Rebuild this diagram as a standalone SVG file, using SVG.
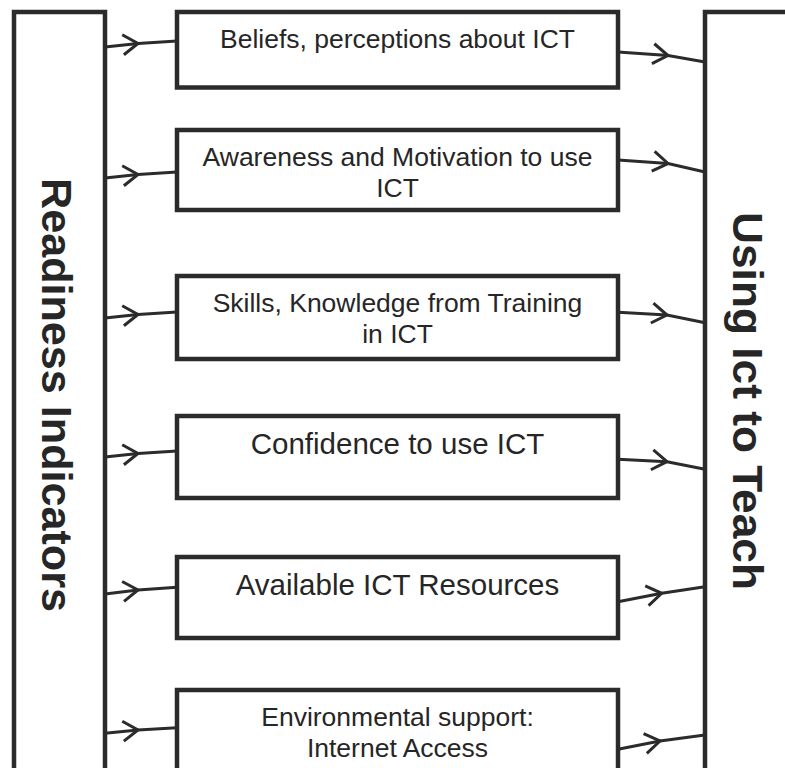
<svg xmlns="http://www.w3.org/2000/svg" width="785" height="768" viewBox="0 0 785 768">
<style>
.box{fill:#ffffff;stroke:#2b2b2b;stroke-width:4.5}
.t{font-family:"Liberation Sans",Arial,sans-serif;font-size:26.5px;fill:#262626;text-anchor:middle}
.tb{font-size:29.5px}
.v{font-family:"Liberation Sans",Arial,sans-serif;font-size:43px;font-weight:bold;fill:#262626;text-anchor:middle}
.c{fill:none;stroke:#2b2b2b;stroke-width:3;marker-mid:url(#chev)}
</style>
<defs>
<marker id="chev" markerUnits="userSpaceOnUse" orient="auto" markerWidth="20" markerHeight="24" viewBox="-17 -12 20 24" refX="0" refY="0" overflow="visible">
<path d="M-15,-10 L0,0 L-15,10" fill="none" stroke="#2b2b2b" stroke-width="3" stroke-linejoin="miter"/>
</marker>
</defs>
<rect width="785" height="768" fill="#ffffff"/>
<g id="readiness">
<rect class="box" x="14" y="12" width="91" height="800"/>
<text class="v" transform="translate(42,395) rotate(90)" textLength="434" lengthAdjust="spacingAndGlyphs">Readiness Indicators</text>
</g>
<g id="using">
<rect class="box" x="705" y="12" width="200" height="800"/>
<text class="v" transform="translate(733,401) rotate(90)" textLength="378" lengthAdjust="spacingAndGlyphs">Using Ict to Teach</text>
</g>
<g id="beliefs">
<rect class="box" x="177" y="12" width="441" height="75.5"/>
<text class="t" x="397.5" y="48">Beliefs, perceptions about ICT</text>
</g>
<g id="awareness">
<rect class="box" x="177" y="130" width="441" height="80"/>
<text class="t" x="397.5" y="166">Awareness and Motivation to use</text>
<text class="t" x="397.5" y="197">ICT</text>
</g>
<g id="skills">
<rect class="box" x="177" y="276" width="441" height="83"/>
<text class="t" x="397.5" y="312">Skills, Knowledge from Training</text>
<text class="t" x="397.5" y="343">in ICT</text>
</g>
<g id="confidence">
<rect class="box" x="177" y="416" width="441" height="82"/>
<text class="t tb" x="397.5" y="454">Confidence to use ICT</text>
</g>
<g id="resources">
<rect class="box" x="177" y="557" width="441" height="81"/>
<text class="t tb" x="397.5" y="595">Available ICT Resources</text>
</g>
<g id="environment">
<rect class="box" x="177" y="690" width="441" height="100"/>
<text class="t" x="397.5" y="726">Environmental support:</text>
<text class="t" x="397.5" y="757">Internet Access</text>
</g>
<g id="connectors">
<path class="c" d="M105,47 L138,43.5 L177,41"/>
<path class="c" d="M105,178 L138,174.5 L177,172"/>
<path class="c" d="M105,318 L138,314.5 L177,312"/>
<path class="c" d="M105,457 L138,453.5 L177,451"/>
<path class="c" d="M105,594 L138,590 L177,587.3"/>
<path class="c" d="M105,733.3 L138,730 L177,727.7"/>
<path class="c" d="M618,52 L668,55.5 L705,62"/>
<path class="c" d="M618,160 L668,163.5 L705,172"/>
<path class="c" d="M618,312.3 L667,315 L705,322.7"/>
<path class="c" d="M618,459.3 L667,461.7 L705,469.3"/>
<path class="c" d="M618,601.7 L661.7,593.3 L705,586.7"/>
<path class="c" d="M618,749.3 L660,741 L705,735"/>
</g>
</svg>
